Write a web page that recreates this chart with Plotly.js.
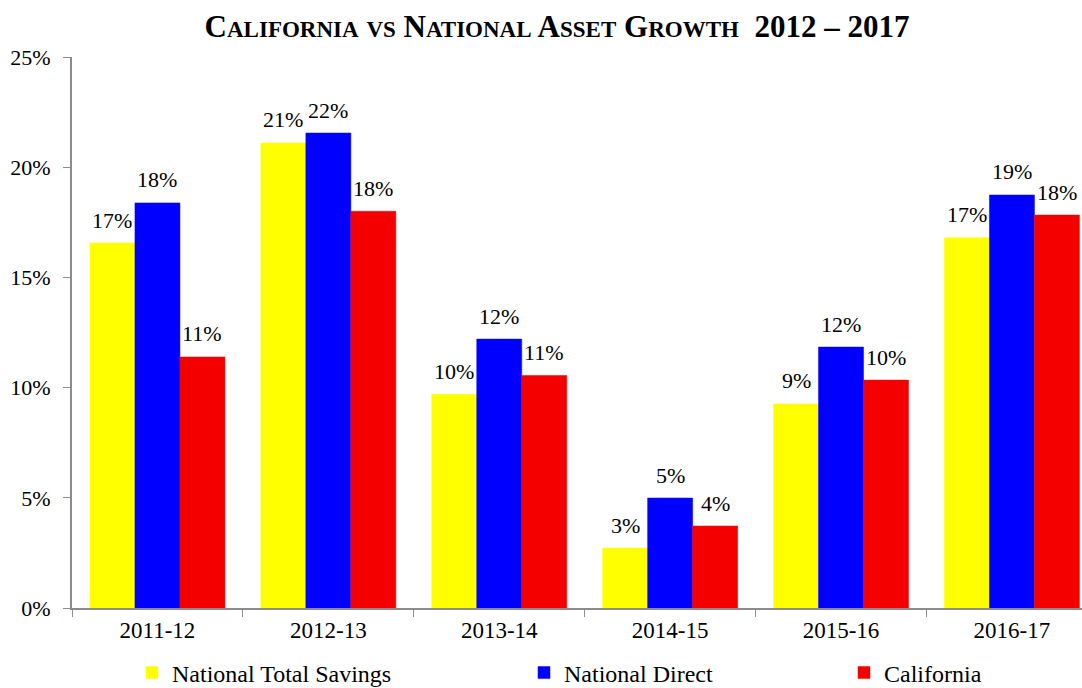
<!DOCTYPE html>
<html>
<head>
<meta charset="utf-8">
<script src="https://cdn.plot.ly/plotly-3.0.1.min.js"></script>
<style>
  html, body { margin: 0; padding: 0; background: #fff; }
  #chart { width: 1082px; height: 688px; }
</style>
</head>
<body>
<div id="chart"></div>
<script>
// Fiscal years on the x axis
var years = ['2011-12', '2012-13', '2013-14', '2014-15', '2015-16', '2016-17'];

// Growth rates (fractions)
var nationalTotal = [0.1656, 0.2110, 0.0970, 0.0272, 0.0926, 0.1680];
var nationalDirect = [0.1838, 0.2155, 0.1220, 0.0499, 0.1184, 0.1874];
var california = [0.1139, 0.1800, 0.1055, 0.0372, 0.1034, 0.1783];

var seriesNames = ['National Total Savings', 'National Direct', 'California'];
var seriesColors = ['#FFFF00', '#0000FF', '#F40000'];
var legendIds = ['legend', 'legend2', 'legend3'];

var serif = 'Liberation Serif, Times New Roman, serif';
var barGap = 0.21;

var allSeries = [nationalTotal, nationalDirect, california];

var data = allSeries.map(function(vals, i) {
    return {
        type: 'bar',
        x: years,
        y: vals,
        name: seriesNames[i],
        legend: legendIds[i],
        marker: {color: seriesColors[i], line: {color: seriesColors[i], width: 0.5}},
        hoverinfo: 'x+y+name'
    };
});

// value labels sit a bit higher than plotly's own outside text, so use annotations
// x uses the category serial numbers, shifted to each bar's slot in the group
var slot = (1 - barGap) / allSeries.length;
var labels = [];
allSeries.forEach(function(vals, k) {
    vals.forEach(function(v, i) {
        labels.push({
            x: i + (k - 1) * slot,
            y: v,
            xref: 'x', yref: 'y',
            text: Math.round(v * 100) + '%',
            showarrow: false,
            yanchor: 'middle',
            yshift: 23,
            font: {family: serif, size: 22, color: '#000'}
        });
    });
});

// small caps title, faked with span sizes
function smallCaps(word) {
    return word.charAt(0) + '<span style="font-size:23px">' + word.slice(1) + '</span>';
}
var titleText = ['CALIFORNIA', 'VS', 'NATIONAL', 'ASSET', 'GROWTH'].map(function(w, k) {
    return k === 1 ? '<span style="font-size:23px">VS</span>' : smallCaps(w);
}).join(' ') + '  2012 – 2017';

function legendAt(px) {
    return {
        xref: 'container', yref: 'container',
        x: px / 1082, y: 15 / 688,
        xanchor: 'left', yanchor: 'middle',
        orientation: 'h',
        font: {family: serif, size: 24, color: '#000'},
        bgcolor: 'rgba(0,0,0,0)'
    };
}

var layout = {
    width: 1082,
    height: 688,
    paper_bgcolor: '#fff',
    plot_bgcolor: '#fff',
    margin: {l: 72, r: 0, t: 57, b: 80},
    title: {
        text: '<b>' + titleText + '</b>',
        font: {family: serif, size: 31, color: '#000'},
        x: 557 / 1082,
        xanchor: 'center',
        y: 1 - 26 / 688,
        yanchor: 'middle'
    },
    barmode: 'group',
    bargap: barGap,
    bargroupgap: 0,
    showlegend: true,
    legend: legendAt(132),
    legend2: legendAt(524),
    legend3: legendAt(844),
    annotations: labels,
    xaxis: {
        type: 'category',
        range: [-0.5, 5.41],
        tickson: 'boundaries',
        ticks: 'outside',
        ticklen: 7,
        tickcolor: '#8c8c8c',
        showline: true,
        linecolor: '#8c8c8c',
        linewidth: 2,
        showgrid: false,
        tickfont: {family: serif, size: 23, color: '#000'}
    },
    yaxis: {
        range: [0, 0.25],
        dtick: 0.05,
        tickformat: '.0%',
        ticks: 'outside',
        ticklen: 7,
        tickcolor: '#8c8c8c',
        showline: true,
        linecolor: '#8c8c8c',
        linewidth: 2,
        showgrid: false,
        zeroline: false,
        ticklabelstandoff: 8,
        tickfont: {family: serif, size: 22, color: '#000'}
    }
};

Plotly.newPlot('chart', data, layout, {displayModeBar: false, staticPlot: true});
</script>
</body>
</html>
